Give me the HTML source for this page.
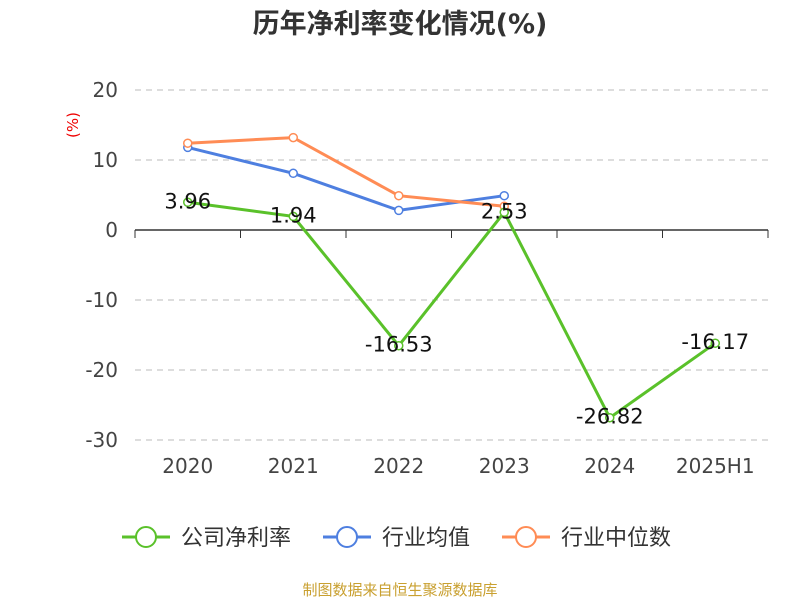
<!DOCTYPE html>
<html><head><meta charset="utf-8"><style>
body{margin:0;background:#fff;}
svg text{font-family:"DejaVu Sans","Noto Sans CJK SC",sans-serif;}
</style></head><body>
<svg id="chart" width="800" height="600" xmlns="http://www.w3.org/2000/svg">
<text x="400" y="33" text-anchor="middle" font-size="27" font-weight="bold" fill="#333">历年净利率变化情况(%)</text>
<text transform="translate(78,125) rotate(-90)" text-anchor="middle" font-size="15" fill="#e00">(%)</text>
<g id="grid"></g><g id="series"></g>
<g>
<g><line x1="122" y1="537" x2="170" y2="537" stroke="#5ac12a" stroke-width="3"/><circle cx="146" cy="537" r="10" fill="#fff" stroke="#5ac12a" stroke-width="2"/><text x="181" y="545" font-size="22" fill="#333">公司净利率</text></g>
<g><line x1="323" y1="537" x2="371" y2="537" stroke="#4e7fe0" stroke-width="3"/><circle cx="347" cy="537" r="10" fill="#fff" stroke="#4e7fe0" stroke-width="2"/><text x="382" y="545" font-size="22" fill="#333">行业均值</text></g>
<g><line x1="502" y1="537" x2="550" y2="537" stroke="#ff8c55" stroke-width="3"/><circle cx="526" cy="537" r="10" fill="#fff" stroke="#ff8c55" stroke-width="2"/><text x="561" y="545" font-size="22" fill="#333">行业中位数</text></g>
</g>
<text x="400" y="595" text-anchor="middle" font-size="15" fill="#c9a030">制图数据来自恒生聚源数据库</text>
</svg>
<script>
const categories=["2020","2021","2022","2023","2024","2025H1"];
const companyValues=[3.96,1.94,-16.53,2.53,-26.82,-16.17];
const avgValues=[11.8,8.1,2.8,4.9];
const medianValues=[12.4,13.2,4.9,3.4];
const yTicks=[20,10,0,-10,-20,-30];
const NS="http://www.w3.org/2000/svg";
const L=135,R=768,yMax=20,yMin=-30,T=90,B=440;
const bw=(R-L)/categories.length;
const x=i=>L+bw*(i+0.5);
const y=v=>T+(yMax-v)/(yMax-yMin)*(B-T);
function mk(tag,attrs,parent){const e=document.createElementNS(NS,tag);for(const k in attrs)e.setAttribute(k,attrs[k]);parent.appendChild(e);return e;}
const grid=document.getElementById('grid'),ser=document.getElementById('series');
yTicks.forEach(t=>{
 if(t!==0){const g=mk('line',{x1:L,x2:R,y1:y(t),y2:y(t),stroke:'#bbb','stroke-dasharray':'6,5'},grid);
 
 }
 const tx=mk('text',{x:118,y:y(t)+7,'text-anchor':'end','font-size':20,fill:'#444'},grid);tx.textContent=t;
 
 
});
const ax=mk('line',{x1:L,x2:R,y1:y(0),y2:y(0),stroke:'#333','stroke-width':1.5},grid);


for(let i=0;i<=categories.length;i++){const tk=mk('line',{x1:L+bw*i,x2:L+bw*i,y1:y(0),y2:y(0)+8,stroke:'#333'},grid);
 
 }
categories.forEach((c,i)=>{const t=mk('text',{x:x(i),y:y(-30)+33,'text-anchor':'middle','font-size':20,fill:'#444'},grid);t.textContent=c;
 
 });
function series(vals,color,name){
 const p=mk('polyline',{points:vals.map((v,i)=>x(i)+','+y(v)).join(' '),fill:'none',stroke:color,'stroke-width':3},ser);
 
 
 vals.forEach((v,i)=>{const c=mk('circle',{cx:x(i),cy:y(v),r:4,fill:'#fff',stroke:color,'stroke-width':1.5},ser);
 
 });
}
series(avgValues,'#4e7fe0','industry-avg');
series(medianValues,'#ff8c55','industry-median');
series(companyValues,'#5ac12a','company');
companyValues.forEach((v,i)=>{const t=mk('text',{x:x(i),y:y(v)+6,'text-anchor':'middle','font-size':21,fill:'#111'},ser);t.textContent=v.toFixed(2);
 
 });
</script>
</body></html>
